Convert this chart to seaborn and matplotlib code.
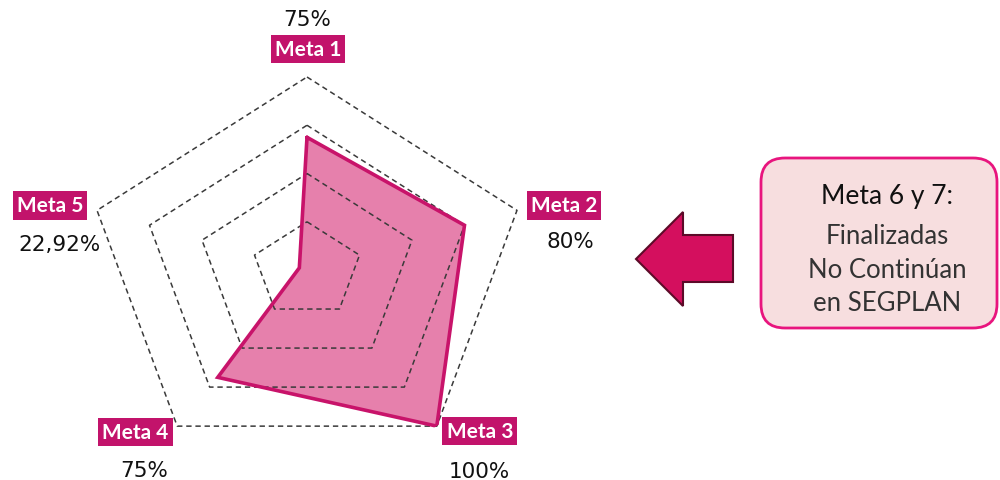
import numpy as np
import matplotlib
matplotlib.use("Agg")
import matplotlib.pyplot as plt
import seaborn as sns
from matplotlib.patches import FancyBboxPatch, Polygon

# ---- data ----
categories = ["Meta 1", "Meta 2", "Meta 3", "Meta 4", "Meta 5"]
values = [0.75, 0.80, 1.00, 0.75, 0.2292]
value_labels = ["75%", "80%", "100%", "75%", "22,92%"]
grid_levels = [0.4, 0.6, 0.8, 1.0]
r_min, r_max = 0.2, 1.0

note_title = "Meta 6 y 7:"
note_lines = ["Finalizadas", "No Continúan", "en SEGPLAN"]

# label offsets from each outer vertex, in pixels (box, value)
box_offsets = [(1, 28), (47, 5), (43, -5), (-42, -6), (-47, 5)]
val_offsets = [(0, 58), (53, -31), (43, -45), (-33, -44), (-38, -34)]

sns.set_theme(style="white")
plt.rcParams["font.family"] = ["Lato", "DejaVu Sans"]

W, H = 1000, 481
fig = plt.figure(figsize=(W / 100, H / 100), dpi=100)

# polar axes (stretched like the reference)
cx, cy, rx, ry = 307, 271, 220.8, 193
ax = fig.add_axes([(cx - rx) / W, (H - cy - ry) / H, 2 * rx / W, 2 * ry / H],
                  projection="polar")
ax.set_aspect("auto")
ax.set_theta_offset(np.pi / 2)
ax.set_theta_direction(-1)
ax.set_ylim(r_min, r_max)
ax.grid(False)
ax.spines["polar"].set_visible(False)
ax.set_xticks([])
ax.set_yticks([])
ax.patch.set_alpha(0)

n = len(categories)
theta = np.linspace(0, 2 * np.pi, n, endpoint=False)
theta_c = np.append(theta, theta[0])

vals_c = np.append(values, values[0])
ax.fill(theta_c, vals_c, color="#E680AC", zorder=1)

for lv in grid_levels:
    ax.plot(theta_c, [lv] * (n + 1), color="#3a3a3a", lw=1.1,
            dashes=(3.5, 2.5), zorder=2, clip_on=False)

ax.plot(theta_c, vals_c, color="#C8136A", lw=2.6, zorder=3,
        solid_joinstyle="miter")

for t, cat, vl, bo, vo in zip(theta, categories, value_labels,
                               box_offsets, val_offsets):
    ax.annotate(cat, xy=(t, r_max), xytext=bo, textcoords="offset pixels",
                ha="center", va="center", fontsize=15, color="white",
                fontweight="bold", annotation_clip=False, zorder=5,
                bbox=dict(boxstyle="square,pad=0.2", fc="#C2136B", ec="none"))
    ax.annotate(vl, xy=(t, r_max), xytext=vo, textcoords="offset pixels",
                ha="center", va="center", fontsize=15.5, color="#111111",
                family=["DejaVu Sans"], annotation_clip=False, zorder=5)

# overlay axes for the note and arrow
ov = fig.add_axes([0, 0, 1, 1], zorder=-1)
ov.set_xlim(0, W)
ov.set_ylim(H, 0)
ov.axis("off")

box = FancyBboxPatch((761, 159), 236, 170,
                     boxstyle="round,pad=0,rounding_size=24",
                     fc="#F7DEDF", ec="#E8157E", lw=2)
ov.add_patch(box)
ov.text(887, 197, note_title, ha="center", va="center", fontsize=19,
        color="#111111")
for y, line in zip([237, 271, 304], note_lines):
    ov.text(887, y, line, ha="center", va="center", fontsize=18.5,
            color="#333333")

arrow = Polygon([(636, 260), (683, 213), (683, 236), (733, 236),
                 (733, 283), (683, 283), (683, 307)], closed=True,
                fc="#D40F5E", ec="#5C0A28", lw=1.5, joinstyle="miter")
ov.add_patch(arrow)

fig.savefig("out.png", dpi=100)
